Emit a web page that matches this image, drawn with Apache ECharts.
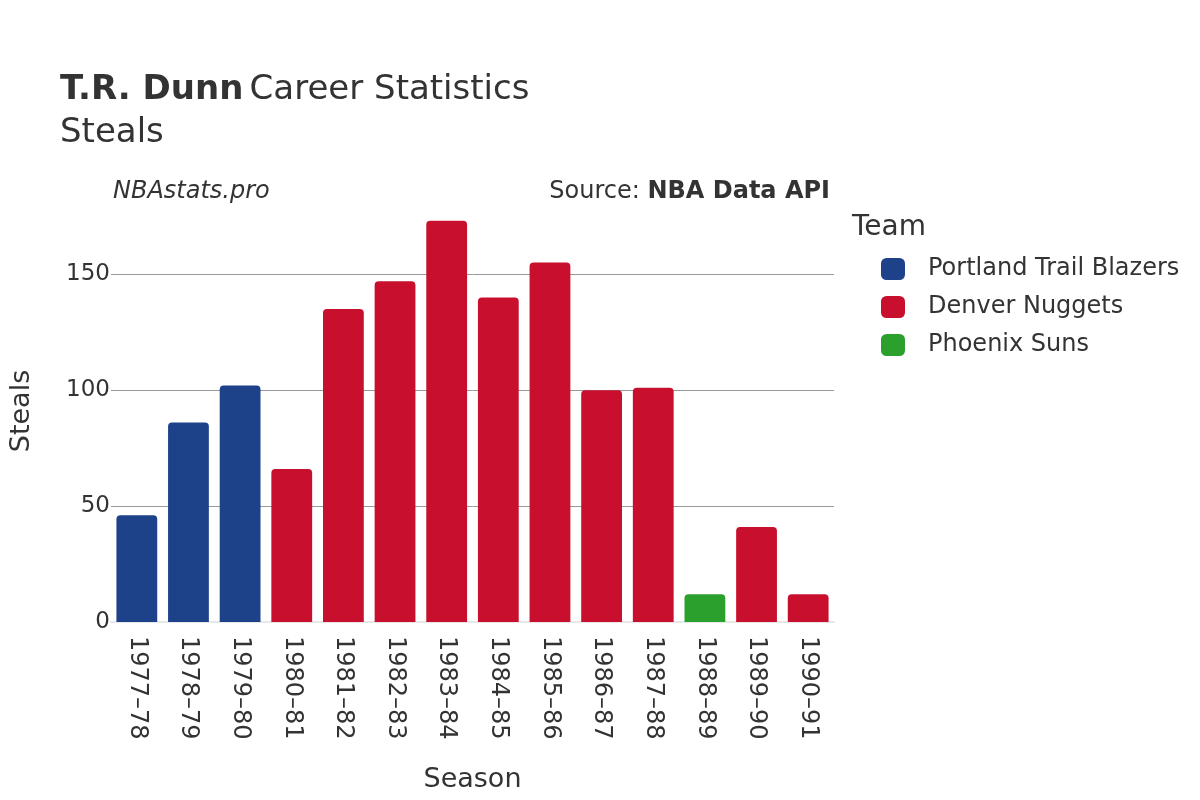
<!DOCTYPE html>
<html><head><meta charset="utf-8">
<script src="https://cdn.jsdelivr.net/npm/echarts@6/dist/echarts.min.js"></script>
<style>html,body{margin:0;padding:0;background:#fff}#c{width:1200px;height:800px}</style>
</head><body><div id="c"></div>
<script>
const seasons = ['1977–78','1978–79','1979–80','1980–81','1981–82','1982–83','1983–84','1984–85','1985–86','1986–87','1987–88','1988–89','1989–90','1990–91'];
const teams = ['Portland Trail Blazers','Denver Nuggets','Phoenix Suns'];
const teamColors = ['#1d428a','#c8102e','#2ca02c'];
const seasonTeam = [0,0,0,1,1,1,1,1,1,1,1,2,1,1];
const steals = [46,86,102,66,135,147,173,140,155,100,101,12,41,12];
const yTicks = [0,50,100,150];

const F = 'DejaVu Sans';
const chart = echarts.init(document.getElementById('c'));
const series = teams.map((t,ti)=>({
  name:t, type:'bar', stack:'s', barWidth:'79%',
  itemStyle:{color:teamColors[ti], borderRadius:[4,4,0,0]},
  data: steals.map((v,i)=> seasonTeam[i]===ti ? v : '-')
}));
chart.setOption({
  animation:false,
  textStyle:{fontFamily:F},
  title:{
    left:55, top:64,
    text:'{b|T.R. Dunn} {n|Career Statistics}\n{n|Steals}',
    textStyle:{rich:{
      b:{fontFamily:F,fontSize:34,fontWeight:'bold',color:'#333',lineHeight:43},
      n:{fontFamily:F,fontSize:34,fontWeight:'normal',color:'#333',lineHeight:43}
    }}
  },
  graphic:[
    {type:'text',left:113,top:180,style:{text:'NBAstats.pro',font:'italic 24px "DejaVu Sans"',fill:'#333'}},
    {type:'text',right:370,top:180,style:{rich:{a:{fontFamily:F,fontSize:24,fill:'#333'},b:{fontFamily:F,fontSize:24,fontWeight:'bold',fill:'#333'}},text:'{a|Source: }{b|NBA Data API}'}},
    {type:'text',left:852,top:214,style:{text:'Team',font:'28px "DejaVu Sans"',fill:'#333'}}
  ],
  legend:{
    orient:'vertical', left:876, top:252, itemWidth:24, itemHeight:22, itemGap:14,
    icon:'roundRect',
    textStyle:{fontFamily:F,fontSize:24,color:'#333',padding:[0,0,0,18]},
    data:teams
  },
  grid:{left:102,right:366,top:200,bottom:178},
  xAxis:{
    type:'category', data:seasons,
    name:'Season', nameLocation:'middle', nameGap:144,
    nameTextStyle:{fontFamily:F,fontSize:27,color:'#333'},
    axisLine:{show:true,lineStyle:{color:'#e8e8e8',width:2}},
    axisTick:{show:false},
    axisLabel:{rotate:-90,fontFamily:F,fontSize:24,color:'#333',margin:14}
  },
  yAxis:{
    type:'value', min:0, max:182, interval:50,
    name:'Steals', nameLocation:'middle', nameGap:76,
    nameTextStyle:{fontFamily:F,fontSize:27,color:'#333'},
    axisLine:{show:false}, axisTick:{show:false},
    axisLabel:{fontFamily:F,fontSize:23,color:'#333',margin:1,
      formatter:v=> yTicks.includes(v)? String(v):''},
    splitLine:{showMaxLine:false,lineStyle:{color:'#999',width:1}}
  },
  series:series
});
</script></body></html>
